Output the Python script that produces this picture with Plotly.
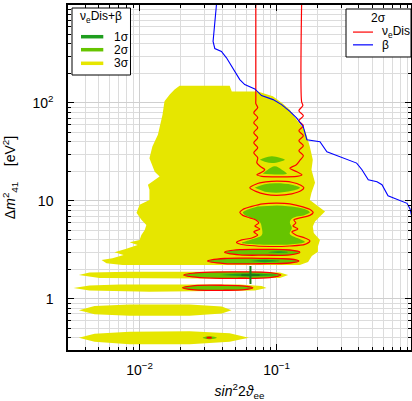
import plotly.graph_objects as go

# ---------------- data (sin^2 2theta_ee , Delta m^2_41 [eV^2]) ----------------
# 3 sigma (yellow) regions, nu_e Dis + beta
yel_main_x = [0.0075, 0.00573, 0.00527, 0.00634, 0.00764, 0.00656, 0.00790, 0.00967, 0.00845, 0.0100,
              0.0103, 0.0109, 0.0112, 0.0103, 0.0095, 0.0100, 0.0118, 0.0118, 0.0115, 0.0131,
              0.0140, 0.0129, 0.0124, 0.0118, 0.0124, 0.0136, 0.0147, 0.0152, 0.0166, 0.0180,
              0.0196, 0.0455, 0.0471, 0.0729, 0.0940, 0.109, 0.125, 0.140, 0.161, 0.175,
              0.184, 0.180, 0.191, 0.180, 0.175, 0.2006, 0.226, 0.2075, 0.191, 0.184,
              0.187, 0.2075, 0.2006, 0.2006, 0.181, 0.170, 0.148]
yel_main_y = [2.21, 2.30, 2.49, 2.59, 2.80, 2.99, 3.23, 3.55, 3.77, 3.99,
              4.49, 5.05, 5.68, 6.40, 7.54, 9.10, 10.2, 12.97, 14.6, 16.4,
              17.7, 19.8, 22.5, 27.3, 36.0, 47.4, 75.8, 103.8, 121.6, 136.8,
              150, 150, 131, 131, 116.9, 100.7, 85.4, 67.5, 53.3, 36.0,
              26.3, 20.8, 15.3, 12.1, 10.2, 8.89, 7.78, 6.91, 6.14, 5.46,
              4.70, 3.99, 3.41, 3.03, 2.74, 2.37, 2.21]
yel_b1_x = [0.0036, 0.0043, 0.00845, 0.0539, 0.1057, 0.1216, 0.1057, 0.0275, 0.0051]
yel_b1_y = [1.75, 1.854, 1.89, 1.89, 1.854, 1.75, 1.63, 1.61, 1.63]
yel_b2_x = [0.00329, 0.0043, 0.00714, 0.0539, 0.078, 0.0845, 0.0693, 0.0118, 0.0043]
yel_b2_y = [1.287, 1.365, 1.397, 1.397, 1.349, 1.287, 1.213, 1.18, 1.213]
yel_b3_x = [0.0036, 0.00469, 0.00845, 0.0232, 0.0398, 0.0469, 0.0398, 0.0232, 0.00845, 0.00469]
yel_b3_y = [0.766, 0.842, 0.872, 0.872, 0.832, 0.766, 0.706, 0.673, 0.673, 0.697]
yel_b4_x = [0.0036, 0.00469, 0.00845, 0.0232, 0.0455, 0.0627, 0.0455, 0.0232, 0.00845, 0.00469]
yel_b4_y = [0.401, 0.440, 0.462, 0.467, 0.446, 0.401, 0.365, 0.344, 0.344, 0.365]

# 2 sigma (green) islands
grn_u1_x = [0.0755, 0.082, 0.0924, 0.1057, 0.115, 0.1057, 0.0924, 0.082]
grn_u1_y = [26.3, 27.5, 28.5, 27.5, 26.3, 25.1, 24.3, 25.1]
grn_u2_x = [0.0794, 0.0863, 0.0972, 0.1093, 0.1189, 0.0972]
grn_u2_y = [18.9, 20.8, 22.5, 20.8, 18.9, 18.6]
grn_ring_x = [0.0694, 0.0821, 0.1004, 0.1294, 0.148, 0.1294, 0.1004, 0.0821]
grn_ring_y = [13.6, 14.8, 15.1, 14.6, 13.6, 12.65, 12.1, 12.36]
grn_vase_x = [0.1004, 0.1361, 0.1666, 0.1753, 0.161, 0.1316, 0.1251, 0.1294, 0.1251, 0.148, 0.161, 0.1251,
              0.0755, 0.0557, 0.0638, 0.0781, 0.0781, 0.0755, 0.0660, 0.0586, 0.0567, 0.0617, 0.0729]
grn_vase_y = [8.99, 8.68, 8.09, 7.63, 7.19, 6.70, 6.10, 5.29, 4.60, 4.08, 3.80, 3.59,
              3.59, 3.72, 3.99, 4.49, 5.29, 6.10, 6.70, 7.19, 7.63, 8.18, 8.78]
grn_tiny_x = [0.0289, 0.0325, 0.0366, 0.0325, 0.0289]
grn_tiny_y = [0.401, 0.415, 0.401, 0.387, 0.401]

# thin bands: 2 sigma fill bounded by the nu_e Dis 2 sigma contour
band1_x = [0.0418, 0.0539, 0.0821, 0.1251, 0.148, 0.1251, 0.0821, 0.0539, 0.0418]
band1_y = [2.99, 3.17, 3.19, 3.15, 2.99, 2.81, 2.79, 2.81, 2.99]
band2_x = [0.0314, 0.0418, 0.0755, 0.1251, 0.1456, 0.1251, 0.0755, 0.0418, 0.0314]
band2_y = [2.43, 2.58, 2.59, 2.55, 2.43, 2.32, 2.28, 2.29, 2.43]
band3_x = [0.0210, 0.0275, 0.0539, 0.0893, 0.1075, 0.0893, 0.0539, 0.0275, 0.0210]
band3_y = [1.75, 1.854, 1.885, 1.854, 1.75, 1.648, 1.62, 1.648, 1.75]
band4_x = [0.0206, 0.0253, 0.0418, 0.0586, 0.0671, 0.0586, 0.0418, 0.0253, 0.0206]
band4_y = [1.296, 1.365, 1.374, 1.349, 1.296, 1.242, 1.222, 1.233, 1.296]

# 1 sigma (dark green)
dk1_x = [0.0864, 0.103, 0.121, 0.103]
dk1_y = [2.99, 3.05, 2.99, 2.93]
dk2_x = [0.0638, 0.082, 0.1057, 0.082]
dk2_y = [2.43, 2.50, 2.43, 2.36]
dk3_x = [0.0385, 0.062, 0.1004, 0.062]
dk3_y = [1.75, 1.81, 1.75, 1.69]

# best fit point
best_x = [0.0645]
best_y = [1.75]

# nu_e Dis 2 sigma contours (red)
red_up_x = [0.0706, 0.0706, 0.0706, 0.0729, 0.0682, 0.0729, 0.0682, 0.0729, 0.0682, 0.0729, 0.0682,
            0.0729, 0.0682, 0.0729, 0.0718, 0.0767, 0.0821, 0.0767, 0.0718, 0.0781, 0.1057, 0.1408,
            0.1531, 0.1408, 0.1251, 0.1396, 0.1494, 0.1570, 0.1456, 0.1570, 0.1456, 0.1570, 0.1456,
            0.1570, 0.1456, 0.1570, 0.1456, 0.1556, 0.1524, 0.1524]
red_up_y = [1000, 108.1, 98.4, 89.5, 79.6, 70.7, 62.9, 55.9, 49.7, 44.1, 39.2,
            34.9, 31.0, 27.5, 24.5, 22.3, 20.8, 19.35, 18.45, 17.8, 17.6, 17.8,
            18.45, 19.8, 21.5, 23.4, 26.3, 28.9, 32.5, 36.6, 41.1, 46.3, 52.0,
            58.6, 65.9, 74.1, 83.4, 93.8, 103.1, 1000]
red_ring_x = [0.0638, 0.0706, 0.0835, 0.1004, 0.1294, 0.1506, 0.1584, 0.1506, 0.1294, 0.1004, 0.0835, 0.0706, 0.0638]
red_ring_y = [13.6, 14.8, 15.6, 15.9, 15.5, 14.4, 13.6, 12.65, 11.8, 11.4, 11.65, 12.5, 13.6]
red_vase_x = [0.1004, 0.1251, 0.1556, 0.178, 0.1853, 0.1753, 0.148, 0.1338, 0.1384, 0.1316, 0.1432, 0.1294,
              0.1384, 0.161, 0.1753, 0.161, 0.1251, 0.0893, 0.0638, 0.0539, 0.0510, 0.0557, 0.0660, 0.0729,
              0.0682, 0.0755, 0.0694, 0.0742, 0.0706, 0.0638, 0.0567, 0.0539, 0.0567, 0.0660, 0.0794, 0.1004]
red_vase_y = [9.47, 9.32, 8.68, 8.09, 7.63, 7.11, 6.70, 6.39, 5.95, 5.55, 5.17, 4.82,
              4.49, 4.18, 3.90, 3.59, 3.46, 3.42, 3.50, 3.63, 3.76, 3.99, 4.18, 4.49,
              4.82, 5.17, 5.55, 5.95, 6.39, 6.70, 7.11, 7.63, 8.18, 8.78, 9.32, 9.47]
red_tiny_x = [0.0309, 0.0336, 0.0336, 0.0309]
red_tiny_y = [0.392, 0.392, 0.410, 0.410]

# beta 2 sigma limit (blue)
blue_x = [0.0364, 0.0354, 0.0344, 0.0354, 0.0396, 0.0431, 0.0481, 0.0539, 0.0586, 0.0694,
          0.0777, 0.0944, 0.1088, 0.1251, 0.140, 0.1567, 0.1666, 0.2075, 0.2333, 0.2904,
          0.3847, 0.4206, 0.4677, 0.5417, 0.589, 0.652, 0.798, 0.898, 0.944, 0.977]
blue_y = [1000, 633, 424, 359.6, 335, 289, 228, 173, 154, 139,
          118.8, 108.1, 96.1, 82.0, 70.2, 57.2, 42.1, 40.2, 31.7, 28.2,
          24.3, 20.8, 16.4, 15.65, 14.6, 11.25, 10.0, 9.43, 8.28, 6.70]

# axis ticks
x_tickvals = [0.01, 0.1]
x_ticktext = ["10<sup>\u22122</sup>", "10<sup>\u22121</sup>"]
y_tickvals = [1, 10, 100]
y_ticktext = ["1", "10", "10<sup>2</sup>"]

# ---------------- styles ----------------
YEL = "#e6e600"
GRN = "#66c400"
DKG = "#1f9e1f"
RED = "#ff0000"
BLU = "#0000ff"
FONT = "Liberation Sans, Arial, Helvetica, sans-serif"

fig = go.Figure()

def poly(x, y, fill, line_color=None, width=0, name=None, shape="linear"):
    fig.add_trace(go.Scatter(
        x=x, y=y, mode="lines", fill="toself", fillcolor=fill,
        line=dict(color=line_color or fill, width=width, shape=shape),
        hoverinfo="skip", showlegend=False, name=name))

for xs, ys in [(yel_main_x, yel_main_y), (yel_b1_x, yel_b1_y), (yel_b2_x, yel_b2_y),
               (yel_b3_x, yel_b3_y), (yel_b4_x, yel_b4_y)]:
    poly(xs, ys, YEL, name="3\u03c3")

for xs, ys in [(grn_u1_x, grn_u1_y), (grn_u2_x, grn_u2_y), (grn_ring_x, grn_ring_y),
               (grn_vase_x, grn_vase_y), (grn_tiny_x, grn_tiny_y)]:
    poly(xs, ys, GRN, name="2\u03c3", shape="spline")

for xs, ys in [(band1_x, band1_y), (band2_x, band2_y), (band3_x, band3_y), (band4_x, band4_y)]:
    poly(xs, ys, GRN, line_color=RED, width=1.3, name="2\u03c3", shape="spline")

for xs, ys in [(dk1_x, dk1_y), (dk2_x, dk2_y), (dk3_x, dk3_y)]:
    poly(xs, ys, DKG, name="1\u03c3", shape="spline")

poly(red_tiny_x, red_tiny_y, RED, name="\u03bd<sub>e</sub>Dis")

for xs, ys in [(red_up_x, red_up_y), (red_ring_x, red_ring_y), (red_vase_x, red_vase_y)]:
    fig.add_trace(go.Scatter(x=xs, y=ys, mode="lines",
                             line=dict(color=RED, width=1.2, shape="spline", smoothing=0.8),
                             hoverinfo="skip", showlegend=False, name="\u03bd<sub>e</sub>Dis"))

fig.add_trace(go.Scatter(x=blue_x, y=blue_y, mode="lines", line=dict(color=BLU, width=1.1),
                         hoverinfo="skip", showlegend=False, name="\u03b2"))

fig.add_trace(go.Scatter(x=best_x, y=best_y, mode="markers",
                         marker=dict(symbol="cross-thin", size=13, line=dict(color="#1a7a1a", width=2)),
                         hoverinfo="skip", showlegend=False, name="best fit"))

# ---------------- axes ----------------
x_minor = [m * 10 ** e for e in (-3, -2, -1) for m in range(2, 10)]
y_minor = [m * 10 ** e for e in (-1, 0, 1, 2) for m in range(2, 10)]

fig.update_xaxes(
    type="log", range=[-2.5229, -0.018],
    tickvals=x_tickvals, ticktext=x_ticktext,
    ticks="inside", ticklen=6, tickwidth=1, tickcolor="black",
    showline=True, linecolor="black", linewidth=1.5, mirror="allticks",
    showgrid=True, gridcolor="#cfcfcf", gridwidth=1.4,
    minor=dict(tickvals=x_minor, ticks="inside", ticklen=3, tickcolor="black",
               showgrid=True, gridcolor="#dcdcdc", gridwidth=1),
    tickfont=dict(family=FONT, size=14, color="black"),
    ticklabelstandoff=6,
    title=dict(text="<i>sin</i><sup>2</sup>2<i>\u03d1</i><sub>ee</sub>",
               font=dict(family=FONT, size=14, color="black"), standoff=18),
    automargin=False, zeroline=False,
)
fig.update_yaxes(
    type="log", range=[-0.5229, 3.0],
    tickvals=y_tickvals, ticktext=y_ticktext,
    ticks="inside", ticklen=6, tickwidth=1, tickcolor="black",
    showline=True, linecolor="black", linewidth=1.5, mirror="allticks",
    showgrid=True, gridcolor="#cfcfcf", gridwidth=1.4,
    minor=dict(tickvals=y_minor, ticks="inside", ticklen=3, tickcolor="black",
               showgrid=True, gridcolor="#dcdcdc", gridwidth=1),
    tickfont=dict(family=FONT, size=14, color="black"),
    ticklabelstandoff=10,
    title=dict(text="\u0394<i>m</i><sup>2</sup><sub>41</sub>\u00a0\u00a0\u00a0\u00a0[eV<sup>2</sup>]",
               font=dict(family=FONT, size=14, color="black"), standoff=14),
    automargin=False, zeroline=False,
)

# ---------------- legends (drawn boxes) ----------------
shapes = []
annotations = []
# legend 1: nu_e Dis + beta
shapes.append(dict(type="rect", xref="paper", yref="paper", x0=0.0117, x1=0.1822, y0=0.7971, y1=0.9913,
                   line=dict(color="black", width=1), fillcolor="white", layer="above"))
annotations.append(dict(text="\u03bd<sub>e</sub>Dis+\u03b2", x=0.0962, y=0.9643, xref="paper", yref="paper",
                        xanchor="center", yanchor="middle", showarrow=False,
                        font=dict(family=FONT, size=12, color="black")))
for label, col, yy in [("1\u03c3", DKG, 0.9081), ("2\u03c3", GRN, 0.8704), ("3\u03c3", YEL, 0.8310)]:
    shapes.append(dict(type="line", xref="paper", yref="paper", x0=0.0379, x1=0.1029, y0=yy, y1=yy,
                       line=dict(color=col, width=3.5), layer="above"))
    annotations.append(dict(text=label, x=0.1283, y=yy, xref="paper", yref="paper",
                            xanchor="left", yanchor="middle", showarrow=False,
                            font=dict(family=FONT, size=12, color="black")))
# legend 2: 2 sigma
shapes.append(dict(type="rect", xref="paper", yref="paper", x0=0.8105, x1=1.0, y0=0.8493, y1=0.9884,
                   line=dict(color="black", width=1), fillcolor="white", layer="above"))
annotations.append(dict(text="2\u03c3", x=0.9038, y=0.9623, xref="paper", yref="paper",
                        xanchor="center", yanchor="middle", showarrow=False,
                        font=dict(family=FONT, size=12, color="black")))
for label, col, yy in [("\u03bd<sub>e</sub>Dis", RED, 0.9215), ("\u03b2", BLU, 0.8845)]:
    shapes.append(dict(type="line", xref="paper", yref="paper", x0=0.8309, x1=0.8892, y0=yy, y1=yy,
                       line=dict(color=col, width=1.2), layer="above"))
    annotations.append(dict(text=label, x=0.9096, y=yy, xref="paper", yref="paper",
                            xanchor="left", yanchor="middle", showarrow=False,
                            font=dict(family=FONT, size=12, color="black")))

fig.update_layout(
    width=412, height=401,
    margin=dict(l=68, r=1, t=5, b=51, pad=0),
    plot_bgcolor="white", paper_bgcolor="white",
    showlegend=False,
    shapes=shapes, annotations=annotations,
    font=dict(family=FONT, size=12, color="black"),
)

fig.write_html("out.html", config={"displayModeBar": False},
               post_script="document.body.style.margin='0px';document.body.style.padding='0px';")
